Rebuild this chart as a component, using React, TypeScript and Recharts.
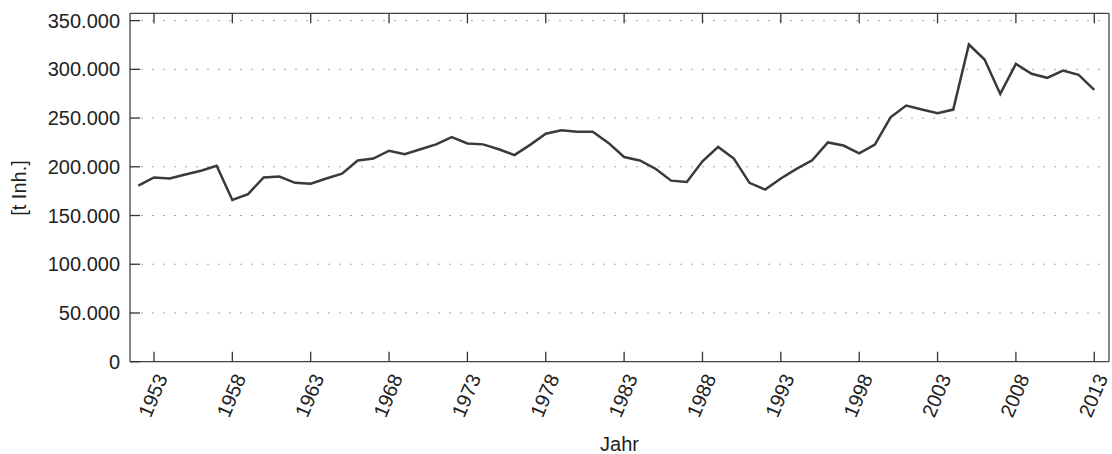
import React from "react";
import { LineChart, Line, XAxis, YAxis, CartesianGrid, Label } from "recharts";

const years = Array.from({ length: 62 }, (_, i) => 1952 + i);

// Jahreswerte in t
const values = [
  180700, 189000, 188000, 192000, 196000, 201000, 166000, 172000, 189000, 190000,
  183500, 182700, 188000, 193000, 206500, 208500, 216500, 213000, 218000, 223000,
  230500, 224000, 223000, 218000, 212000, 222500, 234000, 237500, 236000, 236000,
  224500, 210000, 206500, 198000, 185800, 184500, 205700, 220400, 208400, 183500,
  176600, 188000, 197800, 206700, 225000, 221800, 213800, 222700, 250800, 262800,
  258700, 255000, 258700, 325500, 310000, 274800, 305600, 295400, 291300, 298800,
  294400, 279000,
];

const xTicks = [1953, 1958, 1963, 1968, 1973, 1978, 1983, 1988, 1993, 1998, 2003, 2008, 2013];
const yTicks = [0, 50000, 100000, 150000, 200000, 250000, 300000, 350000];

const data = years.map((year, i) => ({ year, value: values[i] }));

const FONT = "'Liberation Sans', Arial, Helvetica, sans-serif";
const TICK = "#333";

const formatDe = (v: number) => String(v).replace(/\B(?=(\d{3})+(?!\d))/g, ".");

const XTick = ({ x, y, payload }: any) => (
  <g transform={`translate(${x + 14},${y + 16})`}>
    <text
      textAnchor="end"
      transform="rotate(-67)"
      fontSize={20}
      fontFamily={FONT}
      fill="#222"
    >
      {payload.value}
    </text>
  </g>
);

const NoTick = () => <g />;

export default function App() {
  return (
    <div style={{ position: "absolute", left: 0, top: 0, background: "#fff" }}>
      <LineChart
        width={1112}
        height={454}
        data={data}
        margin={{ top: 12.3, right: 2, bottom: 91.3, left: 129 }}
      >
        <CartesianGrid
          vertical={false}
          stroke="#a8a8a8"
          strokeDasharray="2 9"
        />
        <XAxis
          dataKey="year"
          type="number"
          domain={[1951.47, 2013.94]}
          ticks={xTicks}
          interval={0}
          height={1}
          tickSize={-10}
          tickMargin={10}
          tick={<XTick />}
          axisLine={{ stroke: "#444", strokeWidth: 1.3 }}
          tickLine={{ stroke: TICK, strokeWidth: 1.3 }}
        >
          <Label
            value="Jahr"
            position="bottom"
            offset={74}
            style={{ fontSize: 20, fontFamily: FONT, fill: "#222" }}
          />
        </XAxis>
        <XAxis
          xAxisId="top"
          dataKey="year"
          type="number"
          orientation="top"
          domain={[1951.47, 2013.94]}
          ticks={xTicks}
          interval={0}
          height={1}
          tickSize={-10}
          tick={NoTick}
          axisLine={{ stroke: "#444", strokeWidth: 1.3 }}
          tickLine={{ stroke: TICK, strokeWidth: 1.3 }}
        />
        <YAxis
          type="number"
          domain={[0, 357500]}
          ticks={yTicks}
          interval={0}
          width={1}
          tickSize={-10}
          tickMargin={20}
          tickFormatter={formatDe}
          tick={{ fontSize: 20, fontFamily: FONT, fill: "#222" }}
          axisLine={{ stroke: "#444", strokeWidth: 1.3 }}
          tickLine={{ stroke: TICK, strokeWidth: 1.3 }}
        >
          <Label
            content={() => (
              <text
                x={19}
                y={188}
                transform="rotate(-90 19 188)"
                textAnchor="middle"
                dominantBaseline="central"
                fontSize={20}
                fontFamily={FONT}
                fill="#222"
              >
                [t Inh.]
              </text>
            )}
          />
        </YAxis>
        <YAxis
          yAxisId="right"
          orientation="right"
          type="number"
          domain={[0, 357500]}
          ticks={yTicks}
          interval={0}
          width={1}
          tickSize={-10}
          tick={NoTick}
          axisLine={{ stroke: "#444", strokeWidth: 1.3 }}
          tickLine={{ stroke: TICK, strokeWidth: 1.3 }}
        />
        <Line
          type="linear"
          dataKey="value"
          stroke="#3a3a3a"
          strokeWidth={2.5}
          dot={false}
          isAnimationActive={false}
        />
      </LineChart>
    </div>
  );
}
